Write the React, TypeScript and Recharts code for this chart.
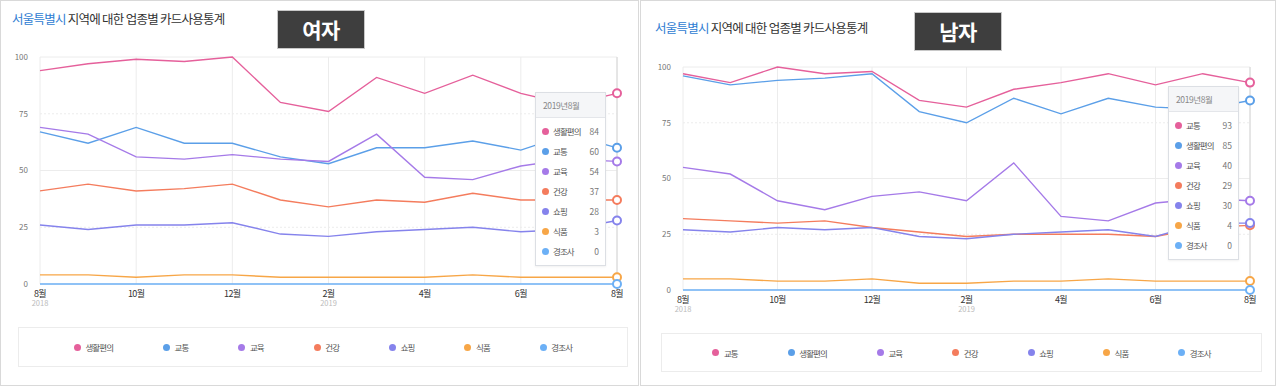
import React from 'react';
import { LineChart, Line, XAxis, YAxis, CartesianGrid, Tooltip } from 'recharts';

const FONT = "'Noto Sans CJK KR', 'Noto Sans', sans-serif";

// ---- categories ----
const periods = ['2018년8월', '2018년9월', '2018년10월', '2018년11월', '2018년12월', '2019년1월', '2019년2월', '2019년3월', '2019년4월', '2019년5월', '2019년6월', '2019년7월', '2019년8월'];
const monthLabels = ['8월', '9월', '10월', '11월', '12월', '1월', '2월', '3월', '4월', '5월', '6월', '7월', '8월'];
const yearLabels = ['2018', '2018', '2018', '2018', '2018', '2019', '2019', '2019', '2019', '2019', '2019', '2019', '2019'];
const tickPeriods = ['2018년8월', '2018년10월', '2018년12월', '2019년2월', '2019년4월', '2019년6월', '2019년8월'];
const yTicks = [0, 25, 50, 75, 100];

// ---- 여자 series ----
const femaleNames = ['생활편의', '교통', '교육', '건강', '쇼핑', '식품', '경조사'];
const fLife = [94, 97, 99, 98, 100, 80, 76, 91, 84, 92, 84, 79, 84];
const fTraffic = [67, 62, 69, 62, 62, 56, 53, 60, 60, 63, 59, 66, 60];
const fEdu = [69, 66, 56, 55, 57, 55, 54, 66, 47, 46, 52, 55, 54];
const fHealth = [41, 44, 41, 42, 44, 37, 34, 37, 36, 40, 37, 37, 37];
const fShop = [26, 24, 26, 26, 27, 22, 21, 23, 24, 25, 23, 24, 28];
const fFood = [4, 4, 3, 4, 4, 3, 3, 3, 3, 4, 3, 3, 3];
const fEvent = [0, 0, 0, 0, 0, 0, 0, 0, 0, 0, 0, 0, 0];

// ---- 남자 series ----
const maleNames = ['교통', '생활편의', '교육', '건강', '쇼핑', '식품', '경조사'];
const mTraffic = [97, 93, 100, 97, 98, 85, 82, 90, 93, 97, 92, 97, 93];
const mLife = [96, 92, 94, 95, 97, 80, 75, 86, 79, 86, 82, 81, 85];
const mEdu = [55, 52, 40, 36, 42, 44, 40, 57, 33, 31, 39, 41, 40];
const mHealth = [32, 31, 30, 31, 28, 26, 24, 25, 25, 25, 24, 28, 29];
const mShop = [27, 26, 28, 27, 28, 24, 23, 25, 26, 27, 24, 30, 30];
const mFood = [5, 5, 4, 4, 5, 3, 3, 4, 4, 5, 4, 4, 4];
const mEvent = [0, 0, 0, 0, 0, 0, 0, 0, 0, 0, 0, 0, 0];

const colors = ['#e5609b', '#5b9fe8', '#a57ae8', '#f47c5d', '#8583ec', '#f7a647', '#6cb0f6'];

const build = (names: string[], series: number[][]) =>
  periods.map((p, i) => {
    const row: any = { period: p };
    names.forEach((n, k) => (row[n] = series[k][i]));
    return row;
  });

const femaleData = build(femaleNames, [fLife, fTraffic, fEdu, fHealth, fShop, fFood, fEvent]);
const maleData = build(maleNames, [mTraffic, mLife, mEdu, mHealth, mShop, mFood, mEvent]);

const XTick = (props: any) => {
  const { x, y, payload } = props;
  const idx = periods.indexOf(payload.value);
  const tIdx = tickPeriods.indexOf(payload.value);
  const showYear = tIdx === 0 || (tIdx > 0 && yearLabels[periods.indexOf(tickPeriods[tIdx - 1])] !== yearLabels[idx]);
  const base = y - 8;
  return (
    <g>
      <text x={x} y={base + 12.5} textAnchor="middle" fontSize={9} fill="#333" fontFamily={FONT} letterSpacing={-0.6}>
        {monthLabels[idx]}
      </text>
      {showYear && (
        <text x={x} y={base + 22} textAnchor="middle" fontSize={7.5} fill="#bbb" fontFamily={FONT}>
          {yearLabels[idx]}
        </text>
      )}
    </g>
  );
};

const TooltipBox = ({ active, payload, label }: any) => {
  if (!active || !payload || !payload.length) return null;
  return (
    <div
      style={{
        width: 71,
        background: '#fff',
        border: '1px solid #dcdfe4',
        boxSizing: 'border-box',
        fontFamily: FONT,
        boxShadow: '0 1px 2px rgba(0,0,0,0.06)',
      }}
    >
      <div
        style={{
          height: 24,
          lineHeight: '24px',
          background: '#f5f6f8',
          borderBottom: '1px solid #e4e6ea',
          paddingLeft: 7,
          fontSize: 8.5,
          color: '#888',
          letterSpacing: -0.4,
          whiteSpace: 'nowrap',
        }}
      >
        {label}
      </div>
      <div style={{ padding: '3px 0 4px 0' }}>
        {payload.map((p: any) => (
          <div key={p.name} style={{ height: 20, display: 'flex', alignItems: 'center' }}>
            <span
              style={{
                width: 7,
                height: 7,
                borderRadius: '50%',
                background: p.color || p.stroke,
                marginLeft: 6,
                marginRight: 4,
                flex: 'none',
              }}
            />
            <span style={{ flex: 1, fontSize: 8.5, color: '#555', letterSpacing: -0.9, whiteSpace: 'nowrap' }}>{p.name}</span>
            <span style={{ fontSize: 8.5, color: '#777', paddingRight: 6 }}>{p.value}</span>
          </div>
        ))}
      </div>
    </div>
  );
};

type PanelProps = {
  left: number;
  width: number;
  names: string[];
  data: any[];
  titleX: number;
  titleY: number;
  badgeX: number;
  badgeY: number;
  badge: string;
  chartH: number;
  marginTop: number;
  marginRight: number;
  yWidth: number;
  tipX: number;
  tipY: number;
  legendX: number;
  legendY: number;
  legendW: number;
  legendH: number;
};

const Panel = (p: PanelProps) => (
  <div
    style={{
      position: 'absolute',
      left: p.left,
      top: 0,
      width: p.width,
      height: 386,
      boxShadow: 'inset 0 0 0 1px #d9d9d9',
      background: '#fff',
      fontFamily: FONT,
    }}
  >
    <div
      style={{
        position: 'absolute',
        left: p.titleX,
        top: p.titleY - 8,
        height: 16,
        lineHeight: '16px',
        fontSize: 12.5,
        letterSpacing: -0.75,
        color: '#333',
        whiteSpace: 'nowrap',
      }}
    >
      <span style={{ color: '#2e7cd2' }}>서울특별시</span> 지역에 대한 업종별 카드사용통계
    </div>
    <div
      style={{
        position: 'absolute',
        left: p.badgeX,
        top: p.badgeY,
        width: 86,
        height: 37,
        background: '#3e3e3e',
        boxShadow: '0 0 0 1px #c8c8c8',
        color: '#fff',
        fontWeight: 700,
        fontSize: 21,
        lineHeight: '37px',
        textAlign: 'center',
        letterSpacing: -0.5,
      }}
    >
      {p.badge}
    </div>
    <div style={{ position: 'absolute', left: 0, top: 0 }}>
      <LineChart
        width={p.width}
        height={p.chartH}
        data={p.data}
        margin={{ top: p.marginTop, right: p.marginRight, bottom: 0, left: 0 }}
      >
        <CartesianGrid stroke="#ececec" horizontalValues={[0, 50, 100]} />
        <CartesianGrid stroke="#ececec" strokeDasharray="2 2" vertical={false} horizontalValues={[25, 75]} />
        <XAxis
          dataKey="period"
          ticks={tickPeriods}
          interval={0}
          axisLine={false}
          tickLine={false}
          height={30}
          tick={<XTick />}
        />
        <YAxis
          domain={[0, 100]}
          ticks={yTicks}
          axisLine={false}
          tickLine={false}
          tickMargin={6}
          width={p.yWidth}
          tick={{ fontSize: 8, fill: '#777', fontFamily: FONT }}
        />
        <Tooltip
          content={<TooltipBox />}
          defaultIndex={12}
          active={true}
          position={{ x: p.tipX, y: p.tipY }}
          cursor={{ stroke: '#d6d6d6', strokeWidth: 1 }}
          isAnimationActive={false}
          wrapperStyle={{ outline: 'none' }}
        />
        {p.names.map((n, k) => (
          <Line
            key={n}
            type="linear"
            dataKey={n}
            name={n}
            stroke={colors[k]}
            strokeWidth={1.4}
            dot={false}
            activeDot={{ r: 4, fill: '#fff', stroke: colors[k], strokeWidth: 2 }}
            isAnimationActive={false}
          />
        ))}
      </LineChart>
    </div>
    <div
      style={{
        position: 'absolute',
        left: p.legendX,
        top: p.legendY,
        width: p.legendW,
        height: p.legendH,
        boxSizing: 'border-box',
        border: '1px solid #ececec',
        display: 'flex',
        alignItems: 'center',
        justifyContent: 'center',
        gap: 50,
      }}
    >
      {p.names.map((n, k) => (
        <div key={n} style={{ display: 'flex', alignItems: 'center' }}>
          <span style={{ width: 7, height: 7, borderRadius: '50%', background: colors[k], marginRight: 4.5 }} />
          <span style={{ fontSize: 8.5, letterSpacing: -0.9, color: '#555', whiteSpace: 'nowrap' }}>{n}</span>
        </div>
      ))}
    </div>
  </div>
);

export default function App() {
  return (
    <div style={{ position: 'absolute', left: 0, top: 0, width: 1276, height: 386, background: '#fff', overflow: 'hidden' }}>
      <Panel
        left={0}
        width={639}
        names={femaleNames}
        data={femaleData}
        titleX={12}
        titleY={19}
        badgeX={278}
        badgeY={11}
        badge="여자"
        chartH={314}
        marginTop={57}
        marginRight={22}
        yWidth={40}
        tipX={535}
        tipY={92}
        legendX={18}
        legendY={327}
        legendW={610}
        legendH={40}
      />
      <Panel
        left={640}
        width={636}
        names={maleNames}
        data={maleData}
        titleX={15}
        titleY={28}
        badgeX={275}
        badgeY={13}
        badge="남자"
        chartH={320}
        marginTop={67}
        marginRight={26}
        yWidth={43}
        tipX={528}
        tipY={86}
        legendX={21}
        legendY={333}
        legendW={601}
        legendH={39}
      />
    </div>
  );
}
